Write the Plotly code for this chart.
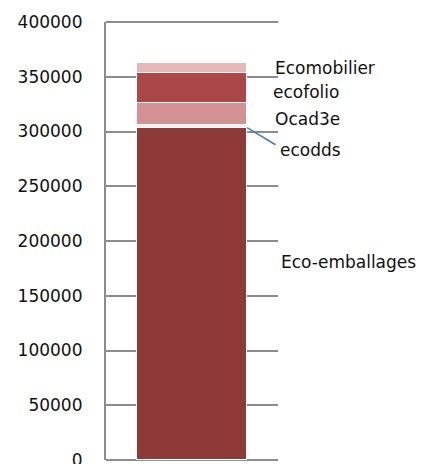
import plotly.graph_objects as go

category = ["Total"]
series_names = ["Eco-emballages", "ecodds", "Ocad3e", "ecofolio", "Ecomobilier"]
series_values = [303000, 3000, 20000, 27000, 10000]
series_colors = ["#8E3A38", "#F5EDED", "#D39291", "#A94846", "#E4B9B9"]
label_y = [181000, 283000, 311000, 336000, 358000]
tick_vals = [0, 50000, 100000, 150000, 200000, 250000, 300000, 350000, 400000]
tick_text = [str(v) for v in tick_vals]

fig = go.Figure()
for name, val, col in zip(series_names, series_values, series_colors):
    fig.add_trace(go.Bar(
        x=category, y=[val], name=name, width=0.64,
        marker=dict(color=col, line=dict(color="white", width=1.2)),
        showlegend=False,
    ))

font_family = "DejaVu Sans, Verdana, sans-serif"
x_offsets = [1, 0, -5, -7, -5]
for name, ly, xo in zip(series_names, label_y, x_offsets):
    fig.add_annotation(
        x=1.0, xref="paper", y=ly, yref="y", text=name, showarrow=False,
        xanchor="left", yanchor="middle", xshift=xo,
        font=dict(family=font_family, size=17, color="#111111"),
    )

# leader line for ecodds
fig.add_annotation(
    x=0.32, xref="x", y=series_values[0] + 500, yref="y",
    ax=30, ay=18, axref="pixel", ayref="pixel",
    showarrow=True, arrowhead=0, arrowwidth=1.6, arrowcolor="#4A7EBB", text="",
)

# frame lines at top and bottom of the plot area
for yp in (0, 1):
    fig.add_shape(type="line", xref="paper", yref="paper", x0=0, x1=1, y0=yp, y1=yp,
                  line=dict(color="#8C8C8C", width=2), layer="below")

# page body has an 8px default margin; compensate so the plot lands where intended
fig.update_layout(
    barmode="stack",
    width=430, height=464,
    margin=dict(l=98, r=160, t=14, b=12),
    plot_bgcolor="white", paper_bgcolor="white",
    font=dict(family=font_family, size=15, color="#111111"),
    bargap=0,
)
fig.update_xaxes(range=[-0.5, 0.5], showticklabels=False, showgrid=False,
                 zeroline=False, showline=False, automargin=False)
fig.update_yaxes(range=[0, 400000], tickvals=tick_vals, ticktext=tick_text,
                 showgrid=True, gridcolor="#8C8C8C", gridwidth=1.6,
                 showline=True, linecolor="#8C8C8C", linewidth=2.2,
                 zeroline=False, ticks="", ticklabelstandoff=18, automargin=False,
                 tickfont=dict(family=font_family, size=17, color="#111111"))

fig.write_html("out.html")
